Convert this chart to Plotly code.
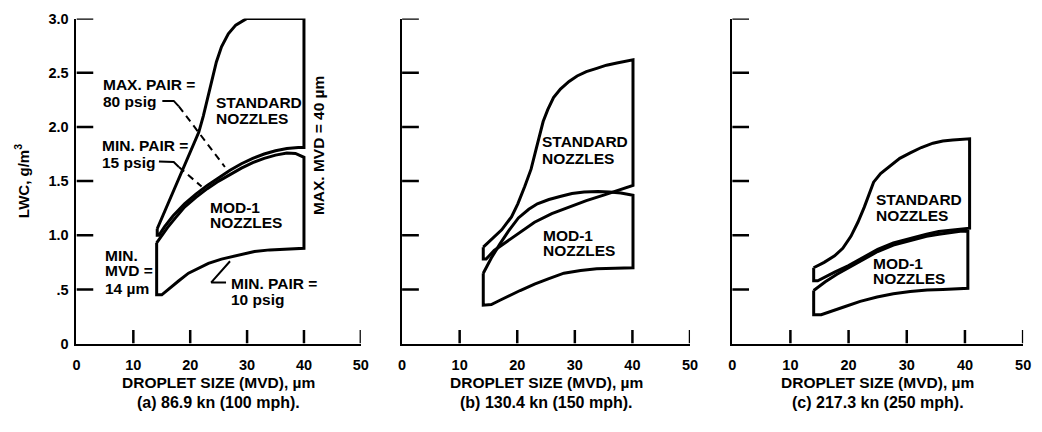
import plotly.graph_objects as go

# ---------------- data ----------------
X_TICKS = [0, 10, 20, 30, 40, 50]
X_TICK_TEXT = ["0", "10", "20", "30", "40", "50"]
Y_TICKS = [0, 0.5, 1.0, 1.5, 2.0, 2.5, 3.0]
Y_TICK_TEXT = ["0", ".5", "1.0", "1.5", "2.0", "2.5", "3.0"]

# Panel (a) 86.9 kn
A_STD_UPPER_X = [14.2, 16, 18, 20, 21.5, 22.3, 23.5, 24.6, 25.5, 26.7, 28, 29.9, 40]
A_STD_UPPER_Y = [1.06, 1.28, 1.52, 1.76, 1.95, 2.1, 2.37, 2.6, 2.74, 2.86, 2.94, 3.0, 3.0]
A_STD_LOWER_X = [14.2, 14.5, 15.5, 17, 19, 21, 23, 25, 27, 29, 31, 33, 35, 37, 39, 40]
A_STD_LOWER_Y = [1.0, 1.0, 1.08, 1.18, 1.29, 1.38, 1.46, 1.53, 1.60, 1.66, 1.71, 1.75, 1.78, 1.80, 1.81, 1.81]
A_MOD_TOP_X = [14.1, 15, 16, 17.4, 19, 21, 23, 25, 27, 29, 31, 33, 35, 37, 38.5, 40]
A_MOD_TOP_Y = [0.93, 1.00, 1.07, 1.16, 1.26, 1.35, 1.43, 1.50, 1.56, 1.62, 1.67, 1.71, 1.74, 1.76, 1.755, 1.72]
A_MOD_BOT_X = [14.1, 15, 16.2, 18, 19.7, 21.5, 23.2, 25.5, 27.8, 31.3, 34, 36.5, 40]
A_MOD_BOT_Y = [0.45, 0.45, 0.50, 0.58, 0.65, 0.70, 0.74, 0.78, 0.81, 0.85, 0.865, 0.875, 0.88]

# leader lines, panel (a)
LEAD80_SOLID_X = [15.1, 17.1, 18.0]
LEAD80_SOLID_Y = [2.24, 2.24, 2.19]
LEAD80_DASH_X = [18.0, 26.1]
LEAD80_DASH_Y = [2.19, 1.63]
LEAD15_SOLID_X = [14.5, 17.1, 18.0]
LEAD15_SOLID_Y = [1.68, 1.676, 1.63]
LEAD15_DASH_X = [18.0, 22.0]
LEAD15_DASH_Y = [1.63, 1.45]
LEAD10_X = [27.0, 23.7, 26.3]
LEAD10_Y = [0.76, 0.565, 0.565]

# Panel (b) 130.4 kn
B_STD_UPPER_X = [14.1, 15.5, 17.3, 19, 20.1, 21.3, 22.4, 23.2, 23.8, 24.5, 25.3, 26.3, 27.5, 29, 30.4, 32, 33.8, 35.5, 37.3, 40.1]
B_STD_UPPER_Y = [0.89, 0.96, 1.05, 1.17, 1.29, 1.45, 1.61, 1.78, 1.91, 2.05, 2.16, 2.27, 2.35, 2.42, 2.47, 2.51, 2.54, 2.57, 2.59, 2.62]
B_STD_LOWER_X = [14.1, 14.6, 16, 18, 20, 23, 26, 29, 32, 35, 38, 40.1]
B_STD_LOWER_Y = [0.78, 0.78, 0.86, 0.94, 1.01, 1.12, 1.20, 1.26, 1.32, 1.37, 1.42, 1.46]
B_MOD_TOP_X = [14.1, 15.5, 17, 18.5, 20.2, 22, 23.5, 25.5, 27.6, 29.5, 31.6, 34, 36, 38, 40.1]
B_MOD_TOP_Y = [0.65, 0.79, 0.92, 1.04, 1.16, 1.24, 1.29, 1.33, 1.36, 1.385, 1.40, 1.405, 1.40, 1.39, 1.37]
B_MOD_BOT_X = [14.1, 15.5, 17, 18.4, 20.5, 23, 25.5, 28.1, 31, 33.8, 37, 40.1]
B_MOD_BOT_Y = [0.355, 0.36, 0.40, 0.44, 0.49, 0.55, 0.60, 0.65, 0.675, 0.69, 0.695, 0.70]

# Panel (c) 217.3 kn
C_STD_UPPER_X = [14, 15.8, 17.6, 19, 20.4, 21.6, 22.7, 23.5, 24.3, 25.5, 27.2, 28.8, 30.6, 32.5, 34.5, 36.2, 37.9, 40.8]
C_STD_UPPER_Y = [0.70, 0.75, 0.81, 0.88, 0.99, 1.12, 1.26, 1.38, 1.49, 1.57, 1.64, 1.71, 1.76, 1.81, 1.85, 1.87, 1.88, 1.89]
C_STD_LOWER_X = [14, 14.7, 15.8, 17.6, 20, 22.1, 25, 27.7, 30.5, 33.4, 35.5, 37.9, 40.8]
C_STD_LOWER_Y = [0.58, 0.58, 0.61, 0.66, 0.72, 0.78, 0.87, 0.93, 0.97, 1.01, 1.035, 1.05, 1.065]
C_MOD_TOP_X = [14, 16, 18, 20, 22.1, 25, 27.7, 30.5, 33.4, 35.5, 37.9, 39.5, 40.5]
C_MOD_TOP_Y = [0.49, 0.57, 0.64, 0.70, 0.76, 0.85, 0.91, 0.95, 0.99, 1.01, 1.03, 1.04, 1.035]
C_MOD_BOT_X = [14, 15.3, 17, 19.3, 22, 24.9, 27.7, 30.6, 33.5, 36.2, 40.5]
C_MOD_BOT_Y = [0.266, 0.266, 0.30, 0.34, 0.39, 0.43, 0.46, 0.48, 0.495, 0.50, 0.51]

CAPTIONS = ["(a) 86.9 kn (100 mph).", "(b) 130.4 kn (150 mph).", "(c) 217.3 kn (250 mph)."]
X_TITLE = "DROPLET SIZE (MVD), µm"
Y_TITLE = "LWC, g/m<sup>3</sup>"

# ---------------- figure ----------------
FONT = "Liberation Sans, Arial, Helvetica, sans-serif"
INK = "black"
LW = 3
W, H = 1042, 432
X_RANGE = [0, 50]
Y_RANGE = [0, 3]
x_domains = [[73.3 / W, 361.0 / W], [402.7 / W, 694.0 / W], [736.7 / W, 1031.0 / W]]
y_domain = [(H - 348.5) / H, (H - 11) / H]
X_TICK_PX = 14
Y_TICK_PX = 17


def closed(top_x, top_y, bot_x, bot_y):
    xs = list(top_x) + list(reversed(bot_x)) + [top_x[0]]
    ys = list(top_y) + list(reversed(bot_y)) + [top_y[0]]
    return xs, ys


fig = go.Figure()

panels = [
    ("x", "y", (A_STD_UPPER_X, A_STD_UPPER_Y, A_STD_LOWER_X, A_STD_LOWER_Y),
     (A_MOD_TOP_X, A_MOD_TOP_Y, A_MOD_BOT_X, A_MOD_BOT_Y)),
    ("x2", "y2", (B_STD_UPPER_X, B_STD_UPPER_Y, B_STD_LOWER_X, B_STD_LOWER_Y),
     (B_MOD_TOP_X, B_MOD_TOP_Y, B_MOD_BOT_X, B_MOD_BOT_Y)),
    ("x3", "y3", (C_STD_UPPER_X, C_STD_UPPER_Y, C_STD_LOWER_X, C_STD_LOWER_Y),
     (C_MOD_TOP_X, C_MOD_TOP_Y, C_MOD_BOT_X, C_MOD_BOT_Y)),
]

for i, (xa, ya, std, mod) in enumerate(panels):
    for name, poly in (("Standard nozzles", std), ("Mod-1 nozzles", mod)):
        xs, ys = closed(*poly)
        fig.add_trace(go.Scatter(x=xs, y=ys, xaxis=xa, yaxis=ya, mode="lines", name=name,
                                 line=dict(color=INK, width=LW), cliponaxis=False,
                                 hoverinfo="skip", showlegend=False))

for lx, ly, dash in ((LEAD80_SOLID_X, LEAD80_SOLID_Y, "solid"), (LEAD80_DASH_X, LEAD80_DASH_Y, "7px,5px"),
                     (LEAD15_SOLID_X, LEAD15_SOLID_Y, "solid"), (LEAD15_DASH_X, LEAD15_DASH_Y, "7px,5px"),
                     (LEAD10_X, LEAD10_Y, "solid")):
    fig.add_trace(go.Scatter(x=lx, y=ly, xaxis="x", yaxis="y", mode="lines",
                             line=dict(color=INK, width=2, dash=dash), cliponaxis=False,
                             hoverinfo="skip", showlegend=False))

# inward tick marks as shapes placed through each panel's own axes
shapes = []
for i, (xa, ya, _s, _m) in enumerate(panels):
    px_per_x = (x_domains[i][1] - x_domains[i][0]) * W / (X_RANGE[1] - X_RANGE[0])
    px_per_y = (y_domain[1] - y_domain[0]) * H / (Y_RANGE[1] - Y_RANGE[0])
    dy = X_TICK_PX / px_per_y
    dx = Y_TICK_PX / px_per_x
    for v in X_TICKS[1:]:
        shapes.append(dict(type="line", xref=xa, yref=ya, x0=v, x1=v, y0=Y_RANGE[0], y1=Y_RANGE[0] + dy,
                           line=dict(color=INK, width=2.5), layer="above"))
    for v in Y_TICKS[1:]:
        shapes.append(dict(type="line", xref=xa, yref=ya, x0=X_RANGE[0], x1=X_RANGE[0] + dx, y0=v, y1=v,
                           line=dict(color=INK, width=2.5), layer="above"))

tickfont = dict(family=FONT, size=14.5, color=INK, weight="bold")
base = dict(showgrid=False, zeroline=False)
CLEAR = "rgba(0,0,0,0)"

layout = dict(width=W, height=H, margin=dict(l=0, r=0, t=0, b=0),
              paper_bgcolor="white", plot_bgcolor="white",
              font=dict(family=FONT, size=15, color=INK, weight="bold"), showlegend=False,
              shapes=shapes)

for i, suf in enumerate(["", "2", "3"]):
    layout["xaxis" + suf] = dict(base, domain=x_domains[i], range=X_RANGE, anchor="y" + suf,
                                 showline=True, linecolor=INK, linewidth=2,
                                 ticks="outside", ticklen=7, tickcolor=CLEAR,
                                 tickvals=X_TICKS, ticktext=X_TICK_TEXT, tickfont=tickfont)
    layout["yaxis" + suf] = dict(base, domain=y_domain, range=Y_RANGE, anchor="x" + suf,
                                 showline=True, linecolor=INK, linewidth=2,
                                 ticks="outside", ticklen=3, tickcolor=CLEAR,
                                 tickvals=Y_TICKS, ticktext=Y_TICK_TEXT, showticklabels=(i == 0),
                                 tickfont=tickfont)

fig.update_layout(**layout)

ann = []
tf = dict(family=FONT, size=15.5, color=INK, weight="bold")


def txt(text, x, y, xref="x", yref="y", **kw):
    d = dict(text=text, x=x, y=y, xref=xref, yref=yref, showarrow=False,
             xanchor="left", yanchor="middle", font=tf)
    d.update(kw)
    ann.append(d)


# panel (a) labels
txt("MAX. PAIR =", 4.3, 2.39)
txt("80 psig", 4.3, 2.235)
txt("MIN. PAIR =", 4.1, 1.83)
txt("15 psig", 4.1, 1.676)
txt("STANDARD", 24.1, 2.23)
txt("NOZZLES", 24.1, 2.076)
txt("MOD-1", 23.2, 1.258)
txt("NOZZLES", 23.2, 1.116)
txt("MIN.", 4.6, 0.813)
txt("MVD =", 4.6, 0.671)
txt("14 µm", 4.6, 0.511)
txt("MIN. PAIR =", 26.9, 0.556)
txt("10 psig", 26.9, 0.404)
txt("MAX. MVD = 40 µm", 42.6, 1.83, xanchor="center", textangle=-90)

# panel (b) labels
txt("STANDARD", 24.0, 1.87, xref="x2", yref="y2")
txt("NOZZLES", 24.0, 1.71, xref="x2", yref="y2")
txt("MOD-1", 24.2, 1.00, xref="x2", yref="y2")
txt("NOZZLES", 24.2, 0.86, xref="x2", yref="y2")

# panel (c) labels
txt("STANDARD", 24.3, 1.33, xref="x3", yref="y3")
txt("NOZZLES", 24.3, 1.18, xref="x3", yref="y3")
txt("MOD-1", 23.8, 0.74, xref="x3", yref="y3")
txt("NOZZLES", 23.8, 0.60, xref="x3", yref="y3")

# axis titles and captions
for i, suf in enumerate(["", "2", "3"]):
    txt(X_TITLE, 25, (H - 389) / H, xref="x" + suf, yref="paper", xanchor="center",
        font=dict(family=FONT, size=15.5, color=INK, weight="bold"))
    txt(CAPTIONS[i], 25, (H - 410) / H, xref="x" + suf, yref="paper", xanchor="center",
        font=dict(family=FONT, size=16, color=INK, weight="bold"))

txt(Y_TITLE, 18 / W, (H - 180) / H, xref="paper", yref="paper", xanchor="center",
    textangle=-90, font=dict(family=FONT, size=15, color=INK, weight="bold"))

fig.update_layout(annotations=ann)
fig.write_html("out.html")
